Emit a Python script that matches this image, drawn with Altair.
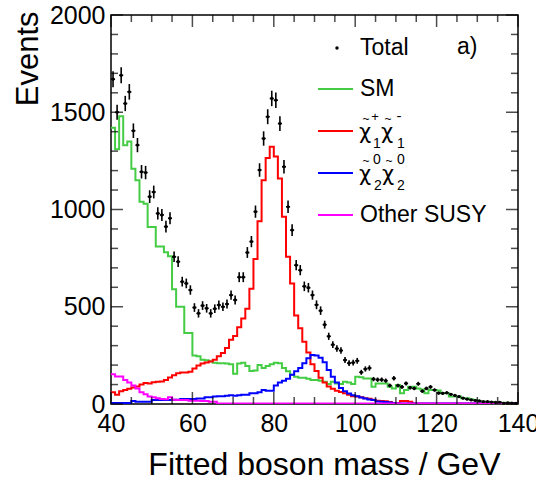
import altair as alt
import pandas as pd

# ---------------- data (1 GeV bins, left edges 40 ... 139) ----------------
bin_edges = list(range(40, 140))
x_major = [40, 60, 80, 100, 120, 140]
y_major = [0, 500, 1000, 1500, 2000]
x_minor = [45, 50, 55, 65, 70, 75, 85, 90, 95, 105, 110, 115, 125, 130, 135]
y_minor = [100, 200, 300, 400, 600, 700, 800, 900, 1100, 1200, 1300, 1400,
           1600, 1700, 1800, 1900]

total = [1670, 1500, 1690, 1545, 1605, 1405, 1331, 1194, 1190, 1066,
         1090, 980, 972, 912, 955, 757, 732, 629, 620, 586,
         496, 466, 506, 492, 466, 490, 509, 500, 514, 560,
         535, 652, 652, 779, 835, 989, 1203, 1365, 1477, 1571,
         1562, 1442, 1220, 1014, 894, 714, 688, 605, 598, 560,
         510, 480, 408, 348, 305, 285, 275, 226, 210, 213,
         222, 163, 180, 185, 128, 125, 125, 120, 95, 132,
         95, 88, 106, 84, 80, 104, 66, 80, 88, 72,
         56, 55, 58, 50, 44, 38, 30, 25, 21, 18,
         16, 12, 12, 10, 8, 9, 4, 6, 5, 4]

sm = [1420, 1310, 1480, 1330, 1350, 1210, 1150, 1040, 1030, 910,
      910, 810, 810, 780, 760, 590, 500, 500, 365, 365,
      250, 245, 228, 225, 220, 212, 210, 210, 208, 205,
      155, 208, 212, 195, 170, 172, 200, 185, 195, 205,
      212, 210, 185, 168, 150, 140, 135, 135, 130, 124,
      123, 120, 115, 103, 115, 105, 103, 115, 110, 103,
      140, 138, 131, 131, 89, 106, 106, 105, 89, 80,
      98, 55, 72, 89, 89, 80, 75, 55, 72, 72,
      70, 55, 55, 38, 38, 38, 29, 29, 25, 21,
      14, 12, 12, 10, 7, 7, 6, 6, 5, 5]

chargino = [60, 48, 65, 72, 78, 85, 90, 100, 108, 106,
            112, 114, 116, 124, 136, 148, 158, 162, 162, 166,
            183, 198, 208, 214, 218, 228, 245, 262, 288, 330,
            350, 395, 440, 490, 593, 745, 940, 1150, 1265, 1323,
            1272, 1160, 963, 757, 620, 455, 390, 320, 265, 205,
            170, 135, 110, 90, 78, 68, 62, 55, 48, 40,
            38, 35, 29, 27, 22, 17, 15, 14, 10, 3,
            3, 15, 15, 12, 2, 1, 1, 1, 1, 1,
            1, 1, 1, 1, 1, 1, 1, 1, 1, 1,
            1, 1, 1, 1, 1, 1, 1, 1, 1, 1]

neutralino = [5, 5, 5, 5, 5, 15, 12, 12, 12, 12,
              20, 20, 20, 20, 20, 22, 22, 26, 26, 26,
              26, 28, 28, 35, 35, 38, 40, 40, 42, 45,
              42, 45, 48, 48, 55, 55, 60, 72, 68, 68,
              95, 110, 120, 130, 150, 168, 185, 210, 235, 252,
              250, 238, 215, 175, 140, 110, 82, 65, 54, 45,
              40, 33, 28, 23, 20, 13, 12, 10, 8, 5,
              3, 2, 2, 2, 2, 2, 2, 2, 2, 2,
              2, 2, 2, 2, 2, 2, 2, 2, 2, 2,
              2, 2, 2, 2, 2, 2, 2, 2, 2, 2]

other_susy = [153, 141, 141, 123, 110, 95, 80, 60, 50, 38,
              35, 29, 26, 24, 35, 22, 20, 20, 20, 17,
              17, 17, 15, 15, 12, 12, 3, 2, 2, 2,
              2, 2, 2, 2, 2, 2, 2, 2, 2, 2,
              2, 2, 2, 2, 2, 2, 2, 2, 2, 2,
              2, 2, 2, 2, 2, 2, 2, 2, 2, 2,
              2, 2, 2, 2, 2, 2, 2, 2, 2, 2,
              2, 2, 2, 2, 2, 2, 2, 2, 2, 2,
              2, 2, 2, 2, 2, 2, 2, 2, 2, 2,
              2, 2, 2, 2, 2, 2, 2, 2, 2, 2]

series_names = ["SM", "chargino", "neutralino", "Other SUSY"]
series_colors = ["#44cc44", "#ff0000", "#0000ff", "#ff00ff"]

# ---------------- layout ----------------
W, H = 407, 389
FONT = "Liberation Sans"
CHIFONT = "DejaVu Sans"


def step_frame(name, vals):
    xs = bin_edges + [bin_edges[-1] + 1]
    ys = list(vals) + [vals[-1]]
    return pd.DataFrame({"mass": xs, "events": ys, "series": name})


hist_df = pd.concat([
    step_frame("SM", sm),
    step_frame("chargino", chargino),
    step_frame("neutralino", neutralino),
    step_frame("Other SUSY", other_susy),
])
hist_df["order"] = hist_df["series"].map({n: i for i, n in enumerate(series_names)})

total_df = pd.DataFrame({"edge": bin_edges, "total": total})

xscale = alt.Scale(domain=[40, 140], nice=False, zero=False)
yscale = alt.Scale(domain=[0, 2000], nice=False)

x_axis = alt.Axis(values=x_major, tickSize=0, domain=False, grid=False, format="d",
                  labelFont=FONT, labelFontSize=25, labelColor="black",
                  labelPadding=7, labelFlush=False,
                  title="Fitted boson mass / GeV", titleFont=FONT,
                  titleFontSize=32, titleFontWeight="normal", titleColor="black",
                  titleAlign="right", titleX=389, titleY=70,
                  titleBaseline="alphabetic")
y_axis = alt.Axis(values=y_major, tickSize=0, domain=False, grid=False, format="d",
                  labelFont=FONT, labelFontSize=25, labelColor="black",
                  labelPadding=6, labelFlush=False,
                  title="Events", titleFont=FONT, titleFontSize=31,
                  titleFontWeight="normal", titleColor="black",
                  titleAngle=270, titleAlign="right", titleX=-74, titleY=-4,
                  titleBaseline="alphabetic")

hists = alt.Chart(hist_df).mark_line(
    interpolate="step-after", strokeWidth=2, clip=True
).encode(
    x=alt.X("mass:Q", scale=xscale, axis=x_axis),
    y=alt.Y("events:Q", scale=yscale, axis=y_axis),
    color=alt.Color("series:N", scale=alt.Scale(domain=series_names, range=series_colors),
                    legend=None),
    detail="series:N",
    order="order:Q",
)

tot_base = alt.Chart(total_df).transform_calculate(
    center="datum.edge + 0.5",
    right="datum.edge + 1",
    lo="datum.total - sqrt(datum.total)",
    hi="datum.total + sqrt(datum.total)",
)
tot_v = tot_base.mark_rule(color="black", strokeWidth=1.6).encode(
    x=alt.X("center:Q", scale=xscale), y=alt.Y("lo:Q", scale=yscale), y2="hi:Q")
tot_h = tot_base.mark_rule(color="black", strokeWidth=1.6).encode(
    x=alt.X("edge:Q", scale=xscale), x2="right:Q", y=alt.Y("total:Q", scale=yscale))
tot_p = tot_base.mark_circle(color="black", size=10, opacity=1).encode(
    x=alt.X("center:Q", scale=xscale), y=alt.Y("total:Q", scale=yscale))

# ---------------- inward ticks on all four sides ----------------
def xticks(vals, length, top):
    df = pd.DataFrame({"t": vals})
    ypos = length / 2 if top else H - length / 2
    return alt.Chart(df).mark_tick(orient="vertical", size=length, thickness=1.5,
                                   color="black").encode(
        x=alt.X("t:Q", scale=xscale), y=alt.value(ypos))


def yticks(vals, length, right):
    df = pd.DataFrame({"t": vals})
    xpos = W - length / 2 if right else length / 2
    return alt.Chart(df).mark_tick(orient="horizontal", size=length, thickness=1.5,
                                   color="black").encode(
        y=alt.Y("t:Q", scale=yscale), x=alt.value(xpos))


tick_layers = []
for top in (False, True):
    tick_layers.append(xticks(x_major, 12, top))
    tick_layers.append(xticks(x_minor, 7, top))
for right in (False, True):
    tick_layers.append(yticks(y_major, 12, right))
    tick_layers.append(yticks(y_minor, 7, right))

# ---------------- hand-made legend ----------------
one = pd.DataFrame({"a": [0]})


def txt(s, x, y, size, baseline="middle", align="left", font=FONT):
    return alt.Chart(one).mark_text(
        text=s, font=font, fontSize=size, color="black",
        align=align, baseline=baseline
    ).encode(x=alt.value(x), y=alt.value(y))


def lline(color, y):
    return alt.Chart(one).mark_rule(color=color, strokeWidth=2).encode(
        x=alt.value(207), x2=alt.value(242), y=alt.value(y))


CHI = "\u03c7"
legend_layers = [
    alt.Chart(one).mark_circle(color="black", size=12, opacity=1).encode(
        x=alt.value(226), y=alt.value(33)),
    txt("Total", 249, 33, 23),
    txt("a)", 346, 32, 23),
    lline(series_colors[0], 74),
    txt("SM", 249, 74, 23),
    lline(series_colors[1], 116),
    lline(series_colors[2], 158),
    lline(series_colors[3], 200),
    txt("Other SUSY", 249, 200, 23),
    # chargino pair
    txt(CHI, 248, 124, 21, baseline="alphabetic", font=CHIFONT),
    txt("~", 255, 104, 12, align="center"),
    txt("+", 264, 102, 13, align="center"),
    txt("1", 266, 129, 14, align="center"),
    txt(CHI, 270, 124, 21, baseline="alphabetic", font=CHIFONT),
    txt("~", 277, 104, 12, align="center"),
    txt("-", 288, 101, 15, align="center"),
    txt("1", 290, 129, 14, align="center"),
    # neutralino pair
    txt(CHI, 248, 166, 21, baseline="alphabetic", font=CHIFONT),
    txt("~", 255, 146, 12, align="center"),
    txt("0", 266, 145, 14, align="center"),
    txt("2", 267, 171, 14, align="center"),
    txt(CHI, 271, 166, 21, baseline="alphabetic", font=CHIFONT),
    txt("~", 278, 146, 12, align="center"),
    txt("0", 290, 145, 14, align="center"),
    txt("2", 290, 171, 14, align="center"),
]

chart = alt.layer(
    hists, tot_h, tot_v, tot_p, *tick_layers, *legend_layers
).properties(
    width=W, height=H,
    padding={"left": 111, "top": 15, "right": 18, "bottom": 76},
    autosize=alt.AutoSizeParams(type="none"),
    background="white",
).configure_view(stroke="black", strokeWidth=1.5)

chart.save("out.html", embed_options={"renderer": "svg", "actions": False})
